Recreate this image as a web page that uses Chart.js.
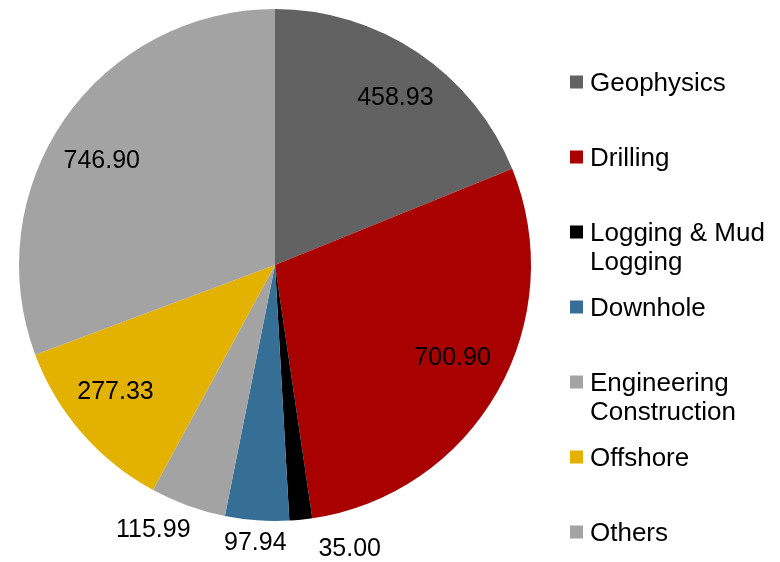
<!DOCTYPE html>
<html>
<head>
<meta charset="utf-8">
<script src="https://cdn.jsdelivr.net/npm/chart.js@4/dist/chart.umd.min.js"></script>
<style>
  body { margin: 0; background: #fff; }
  #wrap { width: 780px; height: 562px; }
</style>
</head>
<body>
<div id="wrap"><canvas id="pieChart" width="780" height="562"></canvas></div>
<script>
const categories = ['Geophysics', 'Drilling', 'Logging & Mud Logging', 'Downhole', 'Engineering Construction', 'Offshore', 'Others']
const legendLines = [['Geophysics'], ['Drilling'], ['Logging & Mud', 'Logging'], ['Downhole'], ['Engineering', 'Construction'], ['Offshore'], ['Others']]
const values = [458.93, 700.90, 35.00, 97.94, 115.99, 277.33, 746.90]
const colors = ['#626262', '#a90000', '#000000', '#366f96', '#a3a3a3', '#e3b100', '#a3a3a3']

// where each value label sits: fraction of radius along the slice middle, plus a small nudge
const labelRadius = [0.8, 0.79, 1.11, 1.09, 1.1, 0.8, 0.8]
const labelNudge = [[6, 3], [2, -7], [46, 1], [0, 0], [-26, 0], [-5, -7], [-5, 13]]

const FONT = '25px "Liberation Sans", Arial, sans-serif'
const LEGEND_FONT = '26px "Liberation Sans", Arial, sans-serif'

const valueLabels = {
    id: 'valueLabels',
    afterDatasetsDraw(chart) {
        const ctx = chart.ctx
        const arcs = chart.getDatasetMeta(0).data
        ctx.save()
        ctx.font = FONT
        ctx.fillStyle = '#000'
        ctx.textAlign = 'center'
        ctx.textBaseline = 'middle'
        arcs.forEach((arc, i) => {
            const p = arc.getProps(['x', 'y', 'startAngle', 'endAngle', 'outerRadius'], true)
            const mid = (p.startAngle + p.endAngle) / 2
            const r = p.outerRadius * labelRadius[i]
            const x = p.x + Math.cos(mid) * r + labelNudge[i][0]
            const y = p.y + Math.sin(mid) * r + labelNudge[i][1]
            ctx.fillText(values[i].toFixed(2), x, y)
        })
        ctx.restore()
    }
}

const sideLegend = {
    id: 'sideLegend',
    afterDraw(chart) {
        const ctx = chart.ctx
        const left = 570, top = 82, step = 75, lineH = 29, box = 13
        ctx.save()
        ctx.font = LEGEND_FONT
        ctx.textAlign = 'left'
        ctx.textBaseline = 'middle'
        legendLines.forEach((lines, i) => {
            const y = top + i * step
            ctx.fillStyle = colors[i]
            ctx.fillRect(left, y - box / 2, box, box)
            ctx.fillStyle = '#000'
            lines.forEach((t, j) => ctx.fillText(t, left + 20, y + 2 + j * lineH))
        })
        ctx.restore()
    }
}

new Chart(document.getElementById('pieChart'), {
    type: 'pie',
    data: {
        labels: categories,
        datasets: [{
            data: values,
            backgroundColor: colors,
            borderWidth: 0
        }]
    },
    options: {
        responsive: false,
        animation: false,
        layout: { padding: { left: 19, top: 9, right: 249, bottom: 41 } },
        plugins: {
            legend: { display: false },
            tooltip: { enabled: false }
        }
    },
    plugins: [valueLabels, sideLegend]
})
</script>
</body>
</html>
